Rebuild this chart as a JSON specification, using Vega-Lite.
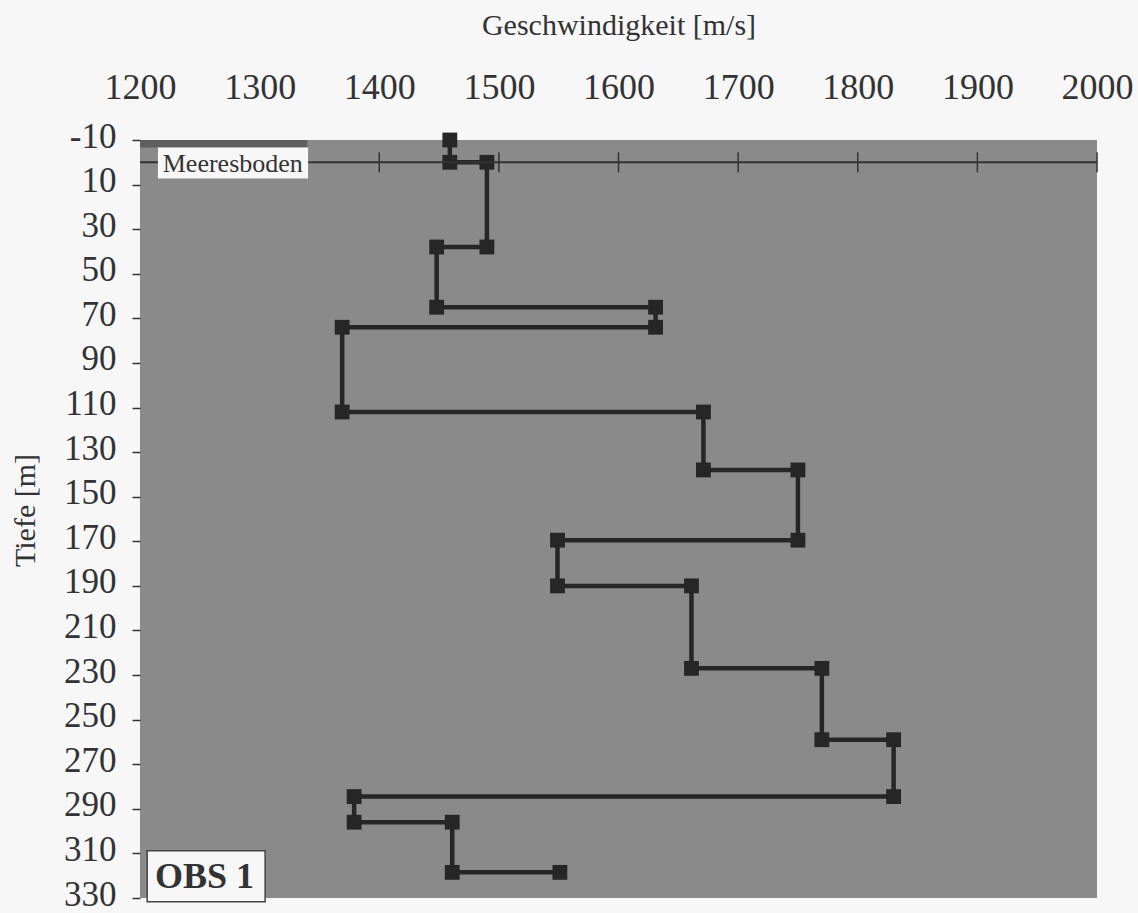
{
  "$schema": "https://vega.github.io/schema/vega-lite/v6.json",
  "width": 957,
  "height": 758,
  "autosize": {"type": "none"},
  "padding": {"left": 140, "top": 140, "right": 41, "bottom": 15},
  "background": "#f7f7f7",
  "config": {
    "view": {"fill": "#8a8a8a", "stroke": null},
    "font": "Liberation Serif",
    "axis": {
      "grid": false,
      "domain": false,
      "labelOverlap": false,
      "labelFlush": false
    }
  },
  "data": {
    "values": [
      {"i": 1, "v": 1459, "d": -10},
      {"i": 2, "v": 1459, "d": 0},
      {"i": 3, "v": 1490, "d": 0},
      {"i": 4, "v": 1490, "d": 38},
      {"i": 5, "v": 1448, "d": 38},
      {"i": 6, "v": 1448, "d": 65},
      {"i": 7, "v": 1631, "d": 65},
      {"i": 8, "v": 1631, "d": 74},
      {"i": 9, "v": 1369, "d": 74},
      {"i": 10, "v": 1369, "d": 112},
      {"i": 11, "v": 1671, "d": 112},
      {"i": 12, "v": 1671, "d": 138},
      {"i": 13, "v": 1750, "d": 138},
      {"i": 14, "v": 1750, "d": 169.5},
      {"i": 15, "v": 1549, "d": 169.5},
      {"i": 16, "v": 1549, "d": 190},
      {"i": 17, "v": 1661, "d": 190},
      {"i": 18, "v": 1661, "d": 227},
      {"i": 19, "v": 1770, "d": 227},
      {"i": 20, "v": 1770, "d": 259},
      {"i": 21, "v": 1830, "d": 259},
      {"i": 22, "v": 1830, "d": 284.5},
      {"i": 23, "v": 1379, "d": 284.5},
      {"i": 24, "v": 1379, "d": 296},
      {"i": 25, "v": 1461, "d": 296},
      {"i": 26, "v": 1461, "d": 318.5},
      {"i": 27, "v": 1551, "d": 318.5}
    ]
  },
  "layer": [
    {
      "mark": {"type": "line", "color": "#262626", "strokeWidth": 4.5},
      "encoding": {
        "x": {
          "field": "v",
          "type": "quantitative",
          "scale": {"domain": [1200, 2000], "nice": false, "zero": false},
          "axis": {
            "orient": "top",
            "title": "Geschwindigkeit [m/s]",
            "values": [1200, 1300, 1400, 1500, 1600, 1700, 1800, 1900, 2000],
            "labelExpr": "'' + datum.value",
            "labelFlush": false,
            "ticks": false,
            "tickSize": 0,
            "labelFont": "Liberation Serif",
            "labelColor": "#333333",
            "labelFontSize": 36,
            "labelPadding": 34,
            "titleFont": "Liberation Serif",
            "titleColor": "#333333",
            "titleFontWeight": "normal",
            "titleFontSize": 30,
            "titleY": -115,
            "titleBaseline": "middle"
          }
        },
        "y": {
          "field": "d",
          "type": "quantitative",
          "scale": {"domain": [-10, 330], "reverse": true, "nice": false, "zero": false},
          "axis": {
            "title": "Tiefe [m]",
            "values": [-10, 10, 30, 50, 70, 90, 110, 130, 150, 170, 190, 210, 230, 250, 270, 290, 310, 330],
            "labelExpr": "'' + datum.value",
            "labelFlush": false,
            "labelOffset": -4,
            "tickSize": 8,
            "tickColor": "#333333",
            "tickWidth": 1.5,
            "labelFont": "Liberation Serif",
            "labelColor": "#333333",
            "labelFontSize": 35,
            "labelPadding": 16,
            "titleFont": "Liberation Serif",
            "titleColor": "#333333",
            "titleFontWeight": "normal",
            "titleFontSize": 30,
            "titleX": -115,
            "titleY": 370,
            "titleBaseline": "middle"
          }
        },
        "order": {"field": "i", "type": "quantitative"}
      }
    },
    {
      "mark": {"type": "point", "shape": "square", "filled": true, "size": 220, "color": "#262626", "opacity": 1},
      "encoding": {
        "x": {"field": "v", "type": "quantitative"},
        "y": {"field": "d", "type": "quantitative"}
      }
    },
    {
      "data": {"values": [{}]},
      "mark": {"type": "rule", "color": "#333333", "strokeWidth": 2},
      "encoding": {"y": {"datum": 0, "type": "quantitative"}}
    },
    {
      "data": {"values": [{"t": 1300}, {"t": 1400}, {"t": 1500}, {"t": 1600}, {"t": 1700}, {"t": 1800}, {"t": 1900}, {"t": 2000}]},
      "mark": {"type": "tick", "orient": "vertical", "color": "#333333", "size": 20, "thickness": 1.5, "opacity": 1},
      "encoding": {
        "x": {"field": "t", "type": "quantitative", "title": "Geschwindigkeit [m/s]"},
        "y": {"datum": 0, "type": "quantitative"}
      }
    },
    {
      "data": {"values": [{}]},
      "mark": {"type": "rect", "fill": "#5f5f5f"},
      "encoding": {
        "x": {"datum": 1200, "type": "quantitative"},
        "x2": {"datum": 1340},
        "y": {"datum": -10, "type": "quantitative"},
        "y2": {"datum": -6.6}
      }
    },
    {
      "data": {"values": [{}]},
      "mark": {"type": "rect", "fill": "#f7f7f7"},
      "encoding": {
        "x": {"datum": 1215, "type": "quantitative"},
        "x2": {"datum": 1340.5},
        "y": {"datum": -6.6, "type": "quantitative"},
        "y2": {"datum": 7.3}
      }
    },
    {
      "data": {"values": [{"label": "Meeresboden"}]},
      "mark": {"type": "text", "font": "Liberation Serif", "fontSize": 26, "color": "#333333", "align": "left", "baseline": "middle"},
      "encoding": {
        "x": {"datum": 1219, "type": "quantitative"},
        "y": {"datum": 0.8, "type": "quantitative"},
        "text": {"field": "label"}
      }
    },
    {
      "data": {"values": [{}]},
      "mark": {"type": "rect", "fill": "#f7f7f7", "stroke": "#444444", "strokeWidth": 1.5},
      "encoding": {
        "x": {"datum": 1206, "type": "quantitative"},
        "x2": {"datum": 1304.6},
        "y": {"datum": 308.8, "type": "quantitative"},
        "y2": {"datum": 331.7}
      }
    },
    {
      "data": {"values": [{"label": "OBS 1"}]},
      "mark": {"type": "text", "font": "Liberation Serif", "fontSize": 36, "fontWeight": "bold", "color": "#333333", "align": "center", "baseline": "middle"},
      "encoding": {
        "x": {"datum": 1254, "type": "quantitative"},
        "y": {"datum": 320.5, "type": "quantitative"},
        "text": {"field": "label"}
      }
    }
  ]
}
